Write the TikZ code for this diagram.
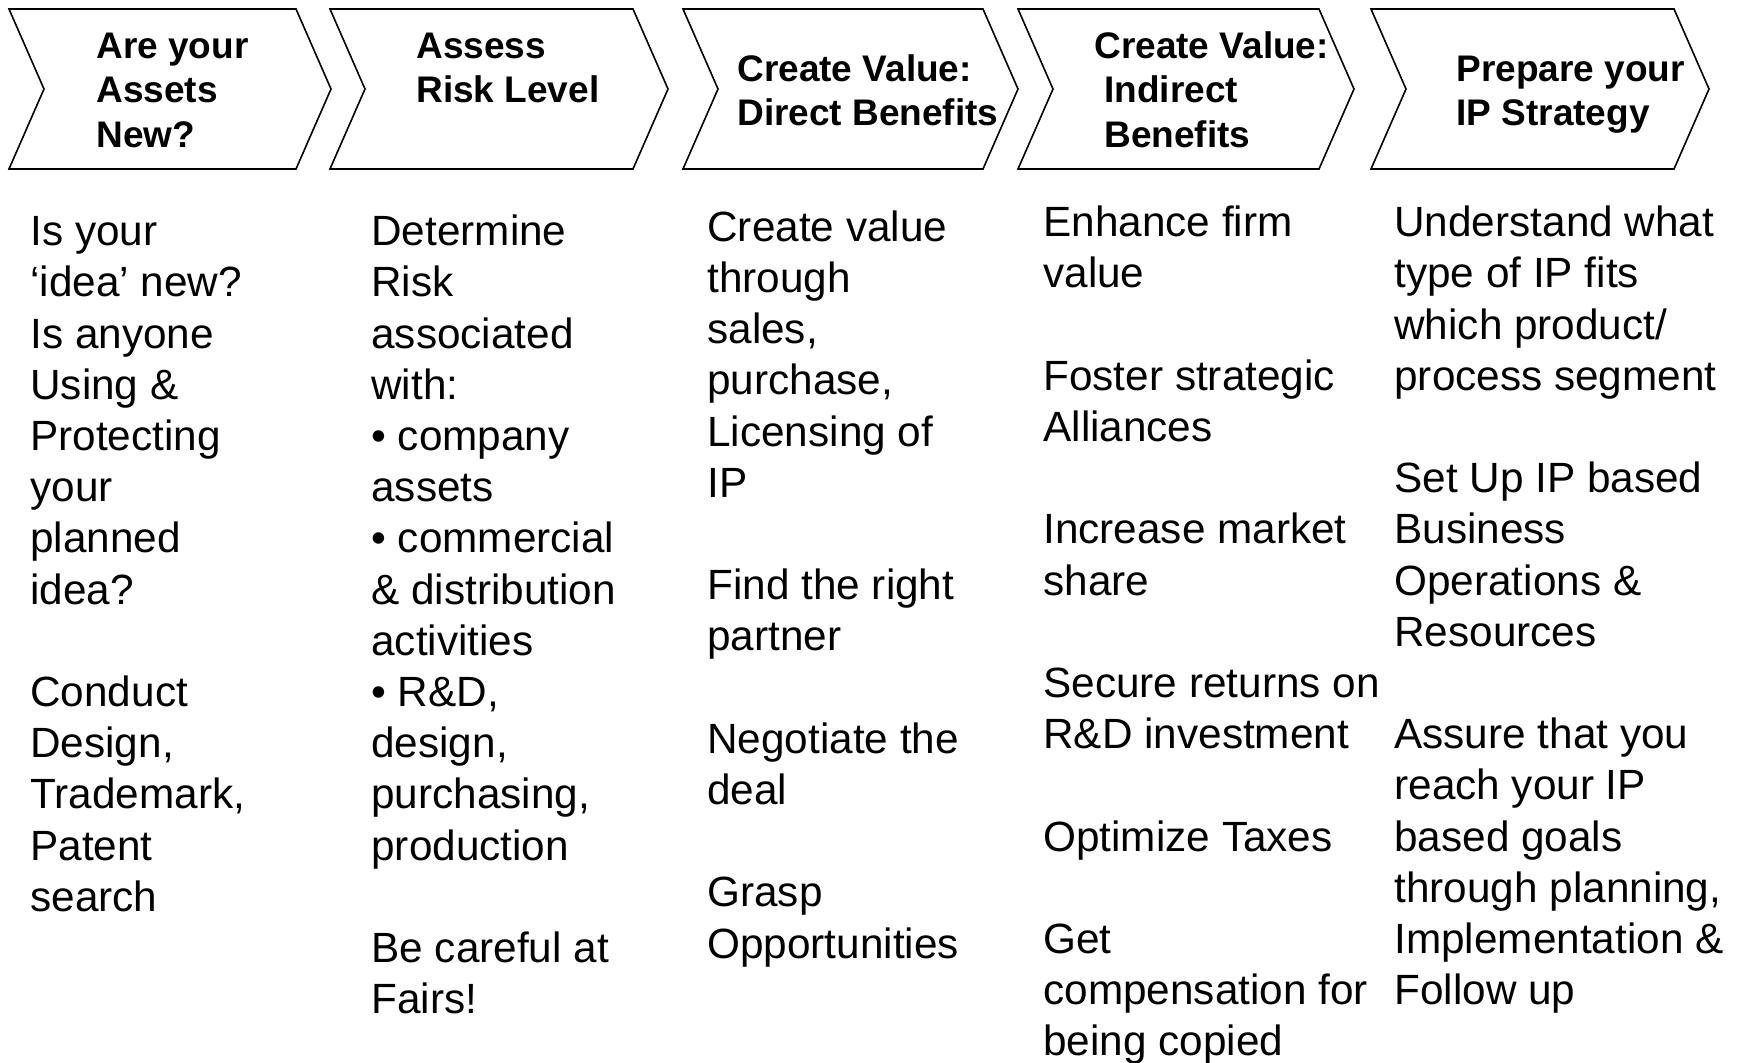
\documentclass[tikz,border=0pt]{standalone}
\usepackage{fontspec}
\setmainfont{Liberation Sans}
\usepackage{tikz}
\tikzset{
    chev/.style={draw=black, line width=0.8pt, line join=miter},
    head/.style={font=\bfseries\fontsize{18.5pt}{22.2pt}\selectfont, align=left, anchor=north west, inner sep=0pt},
    body/.style={font=\fontsize{21.15pt}{25.6pt}\selectfont, align=left, anchor=north west, inner sep=0pt},
    gap/.store in=\gap, gap=25.6pt
}

\begin{document}
\begin{tikzpicture}[x=0.5pt, y=-0.5pt]
			\path[use as bounding box, fill=white] (0,0) rectangle (1740,1062);

			% the five chevrons
			\foreach \l/\r in {9/331, 330/668, 683/1018, 1018/1354, 1371/1709}
				\draw[chev] (\l,9) -- (\r-35,9) -- (\r,89) -- (\r-35,169) -- (\l,169) -- (\l+35,89) -- cycle;

			\node[head] (h1) at (96,27.1) {\strut Are your\\Assets\\New?};
			\node[head] (h2) at (416,27.1) {\strut Assess\\Risk Level};
			\node[head] (h3) at (737,49.6) {\strut Create Value:\\Direct Benefits};
			\node[head] (h4) at (1094,27.1) {\strut Create Value:\\\hspace*{5pt}Indirect\\\hspace*{5pt}Benefits};
			\node[head] (h5) at (1456,49.6) {\strut Prepare your\\IP Strategy};

			\node[body] (c1) at (30,209.5) {\strut Is your\\‘idea’ new?\\Is anyone\\Using \&\\Protecting\\your\\planned\\idea?\\[\gap]Conduct\\Design,\\Trademark,\\Patent\\search};
			\node[body] (c2) at (371,209.5) {\strut Determine\\Risk\\associated\\with:\\• company\\assets\\• commercial\\\& distribution\\activities\\• R\&D,\\design,\\purchasing,\\production\\[\gap]Be careful at\\Fairs!};
			\node[body] (c3) at (707,205) {\strut Create value\\through\\sales,\\purchase,\\Licensing of\\IP\\[\gap]Find the right\\partner\\[\gap]Negotiate the\\deal\\[\gap]Grasp\\Opportunities};
			\node[body] (c4) at (1043,200.5) {\strut Enhance firm\\value\\[\gap]Foster strategic\\Alliances\\[\gap]Increase market\\share\\[\gap]Secure returns on\\R\&D investment\\[\gap]Optimize Taxes\\[\gap]Get\\compensation for\\being copied};
			\node[body] (c5) at (1394,200.5) {\strut Understand what\\type of IP fits\\which product/\\process segment\\[\gap]Set Up IP based\\Business\\Operations \&\\Resources\\[\gap]Assure that you\\reach your IP\\based goals\\through planning,\\Implementation \&\\Follow up};
		\end{tikzpicture}
\end{document}
